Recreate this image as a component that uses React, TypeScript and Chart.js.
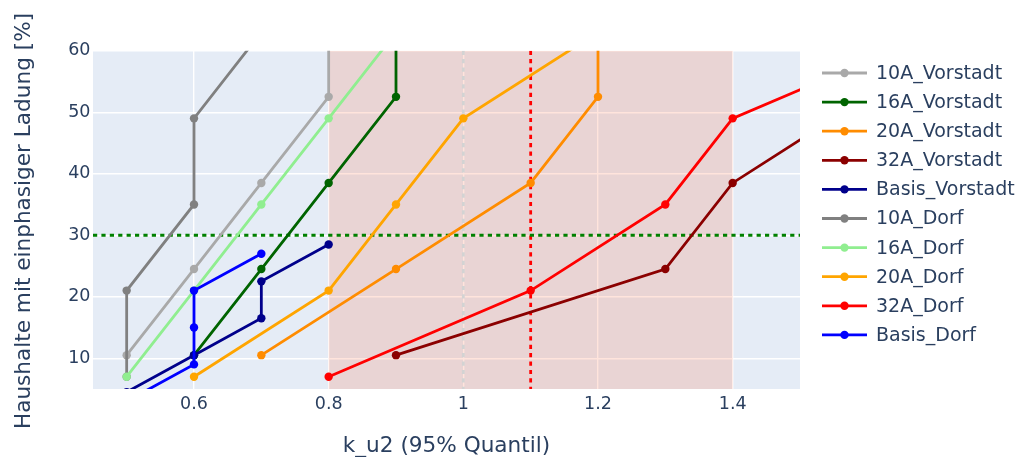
import React, { useEffect, useRef } from "react";
import { Chart, registerables } from "chart.js";

Chart.register(...registerables);

// ---- data ----
const seriesNames = [
  "10A_Vorstadt",
  "16A_Vorstadt",
  "20A_Vorstadt",
  "32A_Vorstadt",
  "Basis_Vorstadt",
  "10A_Dorf",
  "16A_Dorf",
  "20A_Dorf",
  "32A_Dorf",
  "Basis_Dorf",
];
const seriesColors = [
  "#a9a9a9",
  "#006400",
  "#ff8c00",
  "#8b0000",
  "#00008b",
  "#808080",
  "#90ee90",
  "#ffa500",
  "#ff0000",
  "#0000ff",
];

const vorstadt10X = [0.5, 0.6, 0.7, 0.8, 0.8];
const vorstadt10Y = [10.5, 24.5, 38.5, 52.5, 66.5];
const vorstadt16X = [0.6, 0.7, 0.8, 0.9, 0.9];
const vorstadt16Y = [10.5, 24.5, 38.5, 52.5, 66.5];
const vorstadt20X = [0.7, 0.9, 1.1, 1.2, 1.2];
const vorstadt20Y = [10.5, 24.5, 38.5, 52.5, 66.5];
const vorstadt32X = [0.9, 1.3, 1.4, 1.6];
const vorstadt32Y = [10.5, 24.5, 38.5, 52.5];
const basisVorstadtX = [0.5, 0.6, 0.7, 0.7, 0.8];
const basisVorstadtY = [4.5, 10.5, 16.5, 22.5, 28.5];
const dorf10X = [0.5, 0.5, 0.6, 0.6, 0.7];
const dorf10Y = [7, 21, 35, 49, 63];
const dorf16X = [0.5, 0.6, 0.7, 0.8, 0.9];
const dorf16Y = [7, 21, 35, 49, 63];
const dorf20X = [0.6, 0.8, 0.9, 1.0, 1.2];
const dorf20Y = [7, 21, 35, 49, 63];
const dorf32X = [0.8, 1.1, 1.3, 1.4, 1.7];
const dorf32Y = [7, 21, 35, 49, 63];
const basisDorfX = [0.5, 0.6, 0.6, 0.6, 0.7];
const basisDorfY = [3, 9, 15, 21, 27];

const seriesX = [vorstadt10X, vorstadt16X, vorstadt20X, vorstadt32X, basisVorstadtX, dorf10X, dorf16X, dorf20X, dorf32X, basisDorfX];
const seriesY = [vorstadt10Y, vorstadt16Y, vorstadt20Y, vorstadt32Y, basisVorstadtY, dorf10Y, dorf16Y, dorf20Y, dorf32Y, basisDorfY];

const xTickValues = [0.6, 0.8, 1, 1.2, 1.4];
const yTickValues = [10, 20, 30, 40, 50, 60];
const xRange = [0.45, 1.5];
const yRange = [5, 60];
const shadedRange = [0.8, 1.4];
const hLineValue = 30;
const vLineRedValue = 1.1;
const vLineGrayValue = 1.0;

const xTitle = "k_u2 (95% Quantil)";
const yTitle = "Haushalte mit einphasiger Ladung [%]";

const FONT = '"DejaVu Sans", Verdana, sans-serif';
const TEXT = "#2a3f5f";

export default function App() {
  const ref = useRef<HTMLCanvasElement | null>(null);

  useEffect(() => {
    document.body.style.margin = "0";
    const canvas = ref.current!;
    const datasets = seriesNames.map((name, i) => ({
      label: name,
      data: seriesX[i].map((x, j) => ({ x, y: seriesY[i][j] })),
      borderColor: seriesColors[i],
      backgroundColor: seriesColors[i],
      borderWidth: 2.8,
      pointRadius: 4.2,
      pointBorderWidth: 0,
      pointHoverRadius: 4.2,
      showLine: true,
      tension: 0,
      clip: 0,
      order: 20 - i,
    }));

    const decorPlugin = {
      id: "decor",
      beforeDraw(chart: any) {
        const { ctx, chartArea: a } = chart;
        ctx.save();
        ctx.fillStyle = "#ffffff";
        ctx.fillRect(0, 0, chart.width, chart.height);
        ctx.fillStyle = "#e5ecf6";
        ctx.fillRect(a.left, a.top, a.right - a.left, a.bottom - a.top);
        ctx.restore();
      },
      beforeDatasetsDraw(chart: any) {
        const { ctx, chartArea: a, scales } = chart;
        const xs = scales.x, ys = scales.y;
        ctx.save();
        ctx.beginPath();
        ctx.rect(a.left, a.top, a.right - a.left, a.bottom - a.top);
        ctx.clip();
        const x0 = xs.getPixelForValue(shadedRange[0]);
        const x1 = xs.getPixelForValue(shadedRange[1]);
        ctx.fillStyle = "rgba(255, 90, 40, 0.16)";
        ctx.fillRect(x0, a.top, x1 - x0, a.bottom - a.top);

        ctx.lineWidth = 2.8;
        ctx.setLineDash([4.2, 4.2]);
        let xp = xs.getPixelForValue(vLineGrayValue);
        ctx.strokeStyle = "#d3d3d3";
        ctx.beginPath();
        ctx.moveTo(xp, a.top);
        ctx.lineTo(xp, a.bottom);
        ctx.stroke();
        xp = xs.getPixelForValue(vLineRedValue);
        ctx.strokeStyle = "#ff0000";
        ctx.beginPath();
        ctx.moveTo(xp, a.top);
        ctx.lineTo(xp, a.bottom);
        ctx.stroke();
        const yp = ys.getPixelForValue(hLineValue);
        ctx.strokeStyle = "#008000";
        ctx.beginPath();
        ctx.moveTo(a.left, yp);
        ctx.lineTo(a.right, yp);
        ctx.stroke();
        ctx.restore();
      },
      afterDraw(chart: any) {
        const { ctx, chartArea: a } = chart;
        ctx.save();
        ctx.fillStyle = TEXT;
        ctx.font = `21.6px ${FONT}`;
        ctx.textAlign = "center";
        ctx.textBaseline = "alphabetic";
        ctx.fillText(xTitle, (a.left + a.right) / 2, 451.5);
        ctx.translate(29.5, 221);
        ctx.rotate(-Math.PI / 2);
        ctx.fillText(yTitle, 0, 0);
        ctx.restore();

        ctx.save();
        ctx.font = `19px ${FONT}`;
        ctx.textAlign = "left";
        ctx.textBaseline = "middle";
        seriesNames.forEach((name, i) => {
          const y = 73 + i * 29.1;
          ctx.strokeStyle = seriesColors[i];
          ctx.lineWidth = 2.8;
          ctx.beginPath();
          ctx.moveTo(822, y);
          ctx.lineTo(867, y);
          ctx.stroke();
          ctx.fillStyle = seriesColors[i];
          ctx.beginPath();
          ctx.arc(844.5, y, 4.2, 0, Math.PI * 2);
          ctx.fill();
          ctx.fillStyle = TEXT;
          ctx.fillText(name, 876, y + 1);
        });
        ctx.restore();
      },
    };

    const chart = new Chart(canvas, {
      type: "scatter",
      data: { datasets: datasets as any },
      options: {
        animation: false,
        responsive: false,
        events: [],
        layout: { padding: { top: 50.7, right: 222, left: 0, bottom: 0 } },
        plugins: { legend: { display: false }, tooltip: { enabled: false } },
        scales: {
          x: {
            type: "linear",
            min: xRange[0],
            max: xRange[1],
            afterBuildTicks: (s: any) => {
              s.ticks = xTickValues.map((v) => ({ value: v }));
            },
            afterFit: (s: any) => {
              s.height = 68;
            },
            grid: { color: "#ffffff", lineWidth: 1.4, drawTicks: false },
            border: { display: false },
            ticks: {
              color: TEXT,
              font: { family: FONT, size: 17.5 },
              padding: 5,
              maxRotation: 0,
              autoSkip: false,
              callback: (v: any) => String(v),
            },
          },
          y: {
            type: "linear",
            min: yRange[0],
            max: yRange[1],
            afterBuildTicks: (s: any) => {
              s.ticks = yTickValues.map((v) => ({ value: v }));
            },
            afterFit: (s: any) => {
              s.width = 93;
            },
            grid: { color: "#ffffff", lineWidth: 1.4, drawTicks: false },
            border: { display: false },
            ticks: {
              color: TEXT,
              font: { family: FONT, size: 17.5 },
              padding: 2.5,
              autoSkip: false,
              callback: (v: any) => String(v),
            },
          },
        },
      },
      plugins: [decorPlugin],
    });
    return () => chart.destroy();
  }, []);

  return (
    <div style={{ width: 1022, height: 457 }}>
      <canvas ref={ref} width={1022} height={457} style={{ display: "block" }} />
    </div>
  );
}
